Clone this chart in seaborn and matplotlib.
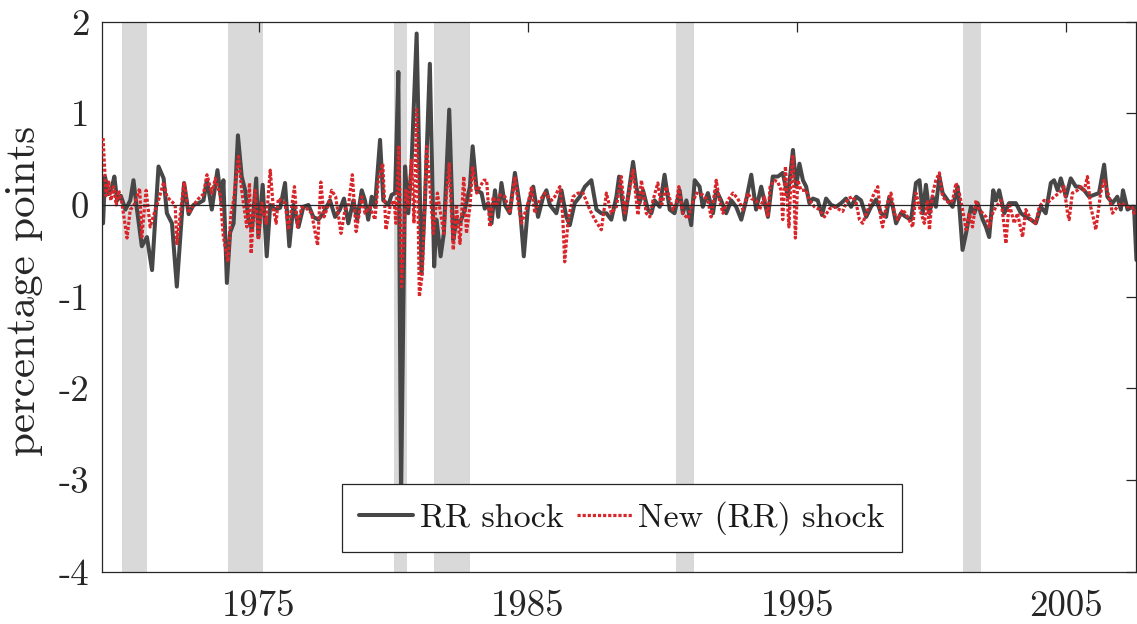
import numpy as np
import pandas as pd
import seaborn as sns
import matplotlib
matplotlib.use("Agg")
import matplotlib.pyplot as plt

# ---------------- data ----------------
rr_t = [1969.21, 1969.28, 1969.42, 1969.54, 1969.63, 1969.73, 1969.87, 1970.04, 1970.22, 1970.34,
        1970.47, 1970.65, 1970.84, 1971.03, 1971.27, 1971.46, 1971.58, 1971.77, 1971.95, 1972.22,
        1972.39, 1972.57, 1972.76, 1972.94, 1973.07, 1973.25, 1973.46, 1973.62, 1973.68, 1973.81,
        1973.93, 1974.06, 1974.22, 1974.36, 1974.49, 1974.61, 1974.74, 1974.90, 1974.98, 1975.14,
        1975.29, 1975.42, 1975.60, 1975.79, 1975.97, 1976.13, 1976.28, 1976.47, 1976.65, 1976.84,
        1977.02, 1977.21, 1977.39, 1977.64, 1977.83, 1978.01, 1978.16, 1978.32, 1978.51, 1978.65,
        1978.82, 1978.94, 1979.06, 1979.19, 1979.31, 1979.50, 1979.62, 1979.81, 1979.93, 1980.06,
        1980.18, 1980.28, 1980.43, 1980.55, 1980.67, 1980.86, 1981.04, 1981.17, 1981.35, 1981.51,
        1981.60, 1981.75, 1981.87, 1982.07, 1982.22, 1982.34, 1982.47, 1982.65, 1982.84, 1982.94,
        1983.09, 1983.27, 1983.39, 1983.52, 1983.64, 1983.77, 1983.89, 1984.01, 1984.14, 1984.32,
        1984.51, 1984.69, 1984.84, 1985.00, 1985.19, 1985.37, 1985.56, 1985.68, 1985.81, 1986.05,
        1986.24, 1986.42, 1986.55, 1986.73, 1986.92, 1987.11, 1987.35, 1987.54, 1987.72, 1987.91,
        1988.09, 1988.28, 1988.38, 1988.59, 1988.90, 1989.02, 1989.14, 1989.27, 1989.45, 1989.58,
        1989.70, 1989.89, 1990.07, 1990.26, 1990.44, 1990.63, 1990.75, 1990.88, 1991.06, 1991.19,
        1991.37, 1991.49, 1991.68, 1991.87, 1991.99, 1992.17, 1992.36, 1992.55, 1992.73, 1992.92,
        1993.10, 1993.29, 1993.47, 1993.66, 1993.91, 1994.09, 1994.28, 1994.46, 1994.65, 1994.84,
        1994.96, 1995.08, 1995.21, 1995.33, 1995.45, 1995.58, 1995.76, 1995.92, 1996.07, 1996.26,
        1996.44, 1996.63, 1996.81, 1997.00, 1997.19, 1997.37, 1997.56, 1997.74, 1997.93, 1998.11,
        1998.30, 1998.42, 1998.55, 1998.67, 1998.85, 1999.04, 1999.23, 1999.41, 1999.54, 1999.66,
        1999.78, 1999.91, 2000.03, 2000.15, 2000.28, 2000.40, 2000.59, 2000.77, 2000.96, 2001.04,
        2001.14, 2001.27, 2001.45, 2001.58, 2001.70, 2001.89, 2002.01, 2002.13, 2002.28, 2002.38,
        2002.50, 2002.69, 2002.87, 2003.12, 2003.31, 2003.49, 2003.68, 2003.86, 2004.05, 2004.23,
        2004.42, 2004.54, 2004.67, 2004.79, 2004.98, 2005.16, 2005.35, 2005.47, 2005.66, 2005.84,
        2006.03, 2006.21, 2006.40, 2006.52, 2006.71, 2006.89, 2007.02, 2007.10, 2007.27, 2007.43,
        2007.51, 2007.60]
rr_v = [-0.20, 0.31, 0.12, 0.20, 0.31, 0.05, 0.10, -0.05, 0.05, 0.27,
        -0.05, -0.45, -0.35, -0.71, 0.42, 0.29, -0.09, -0.20, -0.89, 0.24,
        -0.10, 0.00, 0.02, 0.05, 0.27, -0.05, 0.38, 0.00, 0.27, -0.85,
        -0.30, -0.20, 0.76, 0.31, 0.16, -0.16, -0.27, 0.29, -0.35, 0.22,
        -0.56, 0.00, -0.05, -0.03, 0.24, -0.45, 0.00, -0.24, -0.02, 0.00,
        -0.13, -0.16, -0.09, 0.05, -0.13, -0.05, 0.07, -0.20, 0.05, -0.16,
        0.16, 0.05, -0.16, 0.09, -0.02, 0.71, 0.05, 0.00, 0.11, 0.13,
        1.45, -3.20, 0.42, -0.09, 0.45, 1.87, -0.75, 0.05, 1.54, -0.67,
        -0.16, -0.56, -0.31, 1.04, -0.38, -0.16, -0.20, -0.05, 0.20, 0.64,
        0.16, 0.13, -0.04, 0.02, -0.20, 0.16, -0.13, 0.24, 0.00, -0.09,
        0.35, 0.00, -0.56, 0.00, 0.20, -0.13, 0.09, 0.16, 0.00, -0.09,
        0.16, -0.13, -0.22, 0.02, 0.09, 0.20, 0.27, -0.05, -0.09, -0.09,
        -0.16, 0.09, 0.31, -0.16, 0.47, 0.20, 0.02, 0.16, -0.05, -0.09,
        0.05, -0.02, 0.33, -0.05, -0.09, 0.16, -0.09, 0.05, -0.22, 0.27,
        0.20, -0.02, 0.13, -0.09, 0.16, 0.05, -0.09, 0.05, -0.02, -0.16,
        0.05, 0.33, -0.05, 0.20, -0.13, 0.31, 0.31, 0.35, 0.09, 0.60,
        0.20, 0.45, 0.27, 0.20, 0.02, 0.07, 0.05, -0.11, 0.07, 0.00,
        -0.02, 0.02, 0.07, -0.02, 0.09, 0.05, -0.13, -0.02, 0.06, -0.09,
        -0.13, 0.09, -0.02, -0.20, -0.09, -0.13, -0.16, 0.24, 0.27, -0.09,
        0.22, -0.09, 0.09, -0.02, 0.31, 0.13, 0.05, -0.02, 0.20, -0.09,
        -0.49, -0.31, -0.02, -0.09, 0.02, -0.16, -0.24, -0.35, 0.16, 0.05,
        0.16, -0.09, 0.02, 0.02, -0.09, -0.13, -0.16, -0.20, -0.02, -0.09,
        0.24, 0.27, 0.16, 0.29, 0.09, 0.29, 0.20, 0.20, 0.16, 0.09,
        0.11, 0.13, 0.44, 0.09, 0.02, 0.09, -0.05, 0.16, -0.05, -0.02,
        -0.02, -0.60]

new_t = [1969.21, 1969.32, 1969.42, 1969.50, 1969.60, 1969.70, 1969.79, 1969.91, 1970.10, 1970.22,
         1970.34, 1970.57, 1970.65, 1970.81, 1970.96, 1971.15, 1971.27, 1971.46, 1971.58, 1971.89,
         1971.95, 1972.22, 1972.39, 1972.57, 1972.76, 1972.94, 1973.07, 1973.25, 1973.38, 1973.56,
         1973.68, 1973.85, 1973.96, 1974.06, 1974.24, 1974.36, 1974.55, 1974.65, 1974.71, 1974.86,
         1974.98, 1975.11, 1975.27, 1975.42, 1975.54, 1975.64, 1975.72, 1975.97, 1976.10, 1976.32,
         1976.43, 1976.59, 1976.78, 1976.96, 1977.05, 1977.18, 1977.30, 1977.42, 1977.58, 1977.70,
         1977.85, 1978.05, 1978.20, 1978.32, 1978.47, 1978.61, 1978.73, 1978.82, 1978.94, 1979.13,
         1979.31, 1979.44, 1979.60, 1979.72, 1979.87, 1980.02, 1980.09, 1980.20, 1980.30, 1980.46,
         1980.55, 1980.67, 1980.76, 1980.86, 1980.96, 1981.07, 1981.23, 1981.35, 1981.48, 1981.63,
         1981.75, 1981.87, 1981.97, 1982.07, 1982.22, 1982.34, 1982.47, 1982.61, 1982.71, 1982.84,
         1982.94, 1983.09, 1983.21, 1983.36, 1983.46, 1983.58, 1983.70, 1983.83, 1983.95, 1984.14,
         1984.32, 1984.51, 1984.63, 1984.75, 1984.88, 1985.00, 1985.13, 1985.25, 1985.37, 1985.62,
         1985.87, 1985.99, 1986.18, 1986.28, 1986.36, 1986.49, 1986.67, 1986.86, 1987.04, 1987.29,
         1987.48, 1987.72, 1987.91, 1988.09, 1988.28, 1988.46, 1988.59, 1988.77, 1988.90, 1989.02,
         1989.08, 1989.21, 1989.39, 1989.52, 1989.64, 1989.82, 1989.95, 1990.13, 1990.26, 1990.38,
         1990.50, 1990.60, 1990.75, 1990.94, 1991.06, 1991.25, 1991.49, 1991.68, 1991.80, 1991.99,
         1992.11, 1992.24, 1992.42, 1992.61, 1992.79, 1992.98, 1993.16, 1993.29, 1993.47, 1993.60,
         1993.78, 1993.91, 1993.99, 1994.15, 1994.28, 1994.40, 1994.46, 1994.56, 1994.69, 1994.77,
         1994.84, 1994.93, 1995.02, 1995.14, 1995.33, 1995.45, 1995.64, 1995.82, 1996.01, 1996.20,
         1996.38, 1996.57, 1996.69, 1996.88, 1997.06, 1997.19, 1997.31, 1997.43, 1997.62, 1997.80,
         1997.99, 1998.11, 1998.17, 1998.30, 1998.48, 1998.61, 1998.73, 1998.92, 1999.10, 1999.29,
         1999.41, 1999.60, 1999.72, 1999.84, 1999.91, 2000.03, 2000.15, 2000.28, 2000.40, 2000.52,
         2000.65, 2000.77, 2000.90, 2001.02, 2001.14, 2001.27, 2001.39, 2001.51, 2001.64, 2001.76,
         2001.89, 2002.01, 2002.13, 2002.26, 2002.38, 2002.57, 2002.69, 2002.75, 2002.87, 2003.06,
         2003.18, 2003.37, 2003.49, 2003.68, 2003.86, 2003.99, 2004.17, 2004.36, 2004.54, 2004.73,
         2004.91, 2005.04, 2005.10, 2005.22, 2005.41, 2005.53, 2005.66, 2005.78, 2005.90, 2005.99,
         2006.09, 2006.27, 2006.40, 2006.58, 2006.71, 2006.89, 2007.02, 2007.27, 2007.43, 2007.51,
         2007.60]
new_v = [0.73, 0.10, 0.25, 0.05, 0.20, 0.00, 0.16, 0.02, -0.36, -0.05,
         -0.02, 0.18, -0.35, 0.16, -0.24, -0.05, 0.05, 0.25, 0.09, 0.00,
         -0.42, 0.25, -0.09, 0.00, 0.07, 0.12, 0.33, 0.13, 0.29, 0.11,
         -0.35, -0.62, -0.10, 0.05, 0.53, 0.16, -0.24, 0.24, -0.53, 0.16,
         -0.38, 0.02, -0.20, 0.38, -0.05, -0.20, 0.07, 0.02, -0.27, 0.20,
         -0.24, -0.02, -0.04, -0.09, -0.24, -0.44, 0.25, -0.13, 0.00, 0.16,
         0.09, -0.31, -0.05, -0.02, 0.33, -0.29, -0.09, 0.09, -0.09, -0.02,
         -0.16, 0.27, 0.45, -0.27, -0.02, 0.05, -0.20, 0.65, -0.89, 0.16,
         -0.02, 0.49, -0.20, 1.04, -1.00, -0.75, 0.64, 0.20, -0.31, 0.13,
         -0.09, -0.31, 0.13, 0.45, -0.49, -0.02, -0.42, 0.31, -0.31, -0.02,
         0.42, 0.13, 0.20, 0.27, 0.27, -0.24, 0.09, -0.02, 0.11, 0.09,
         -0.09, 0.31, 0.02, -0.20, -0.09, 0.02, 0.20, -0.09, 0.02, 0.13,
         0.05, 0.09, 0.20, -0.09, -0.62, -0.16, 0.09, 0.13, 0.13, -0.05,
         -0.16, -0.27, 0.13, -0.09, -0.02, 0.31, -0.09, 0.16, 0.38, 0.05,
         -0.11, 0.27, -0.09, -0.13, 0.05, 0.24, -0.02, 0.20, 0.07, -0.05,
         0.02, 0.20, -0.09, -0.15, -0.02, 0.13, 0.11, 0.05, -0.13, 0.27,
         0.05, -0.09, 0.05, 0.13, 0.07, -0.05, 0.13, 0.07, 0.05, -0.05,
         0.09, -0.13, 0.20, 0.27, 0.25, 0.16, -0.16, 0.42, -0.24, 0.31,
         0.53, -0.36, 0.27, 0.16, 0.16, 0.05, -0.02, -0.05, -0.13, -0.04,
         -0.02, -0.05, -0.07, 0.07, 0.09, 0.02, -0.16, -0.20, -0.05, 0.09,
         0.20, -0.16, -0.24, -0.02, 0.13, -0.09, -0.16, -0.05, -0.13, -0.24,
         0.13, -0.09, -0.20, 0.05, -0.27, 0.13, 0.27, 0.35, 0.09, 0.05,
         0.02, 0.05, 0.24, 0.13, -0.05, -0.27, -0.09, -0.24, 0.05, -0.05,
         -0.09, -0.13, -0.24, -0.09, -0.02, 0.05, -0.24, -0.42, 0.02, -0.20,
         -0.09, -0.35, -0.05, -0.16, -0.20, -0.02, 0.05, 0.04, 0.09, 0.13,
         0.20, -0.09, -0.16, 0.13, 0.16, 0.20, 0.16, 0.31, -0.02, -0.13,
         -0.27, 0.13, 0.27, 0.09, -0.09, -0.02, 0.02, -0.02, -0.02, -0.09,
         -0.05]

recession_start = [1969.917, 1973.833, 1980.000, 1981.500, 1990.500, 2001.167]
recession_end = [1970.833, 1975.167, 1980.500, 1982.833, 1991.167, 2001.833]

x_ticks = [1975, 1985, 1995, 2005]
y_ticks = [-4, -3, -2, -1, 0, 1, 2]
y_tick_labels = ["-4", "-3", "-2", "-1", "0", "1", "2"]
series_names = ["RR shock", "New (RR) shock"]

# ---------------- style ----------------
sns.set_theme(style="white")
plt.rcParams["font.family"] = ["cmr10", "DejaVu Serif"]
plt.rcParams["mathtext.fontset"] = "cm"
plt.rcParams["axes.unicode_minus"] = False
plt.rcParams["axes.formatter.use_mathtext"] = True

fig = plt.figure(figsize=(11.37, 6.24), dpi=100)
ax = fig.add_axes([0.0897, 0.0837, 0.9098, 0.8817])

for s, e in zip(recession_start, recession_end):
    ax.axvspan(s, e, color="#d9d9d9", lw=0, zorder=0)

df_rr = pd.DataFrame({"t": rr_t, "v": rr_v})
df_new = pd.DataFrame({"t": new_t, "v": new_v})

sns.lineplot(data=df_rr, x="t", y="v", ax=ax, color="#474747", lw=2.9,
             estimator=None, sort=False, label=series_names[0], zorder=2)
sns.lineplot(data=df_new, x="t", y="v", ax=ax, color="#d8262b", lw=2.3,
             estimator=None, sort=False, label=series_names[1], zorder=3,
             linestyle=(0, (1.0, 0.6)))

ax.axhline(0, color="#262626", lw=0.9, zorder=4)

ax.set_xlim(1969.17, 2007.6)
ax.set_ylim(-4, 2)
ax.set_xticks(x_ticks)
ax.set_xticklabels([str(x) for x in x_ticks])
ax.set_yticks(y_ticks)
ax.set_yticklabels(y_tick_labels)
ax.tick_params(axis="both", direction="in", length=7, width=0.9, color="#262626",
               labelsize=26.5, top=True, right=True, labelcolor="#262626")
ax.tick_params(axis="x", pad=13)
ax.tick_params(axis="y", pad=9)
ax.set_xlabel("")
ax.set_ylabel("percentage points", fontsize=31, color="#262626")
ax.yaxis.set_label_coords(-0.057, 0.51)
for sp in ax.spines.values():
    sp.set_color("#262626")
    sp.set_linewidth(0.9)
    sp.set_visible(True)

leg = ax.legend(loc="lower center", bbox_to_anchor=(0.5025, 0.036), ncol=2,
                frameon=True, fancybox=False, framealpha=1, edgecolor="#262626",
                fontsize=24.5, handlelength=1.6, handletextpad=0.2,
                columnspacing=0.4, borderpad=0.5, borderaxespad=0)
leg.get_frame().set_linewidth(0.9)
for txt in leg.get_texts():
    txt.set_color("#1a1a1a")

fig.savefig("out.png", dpi=100)
